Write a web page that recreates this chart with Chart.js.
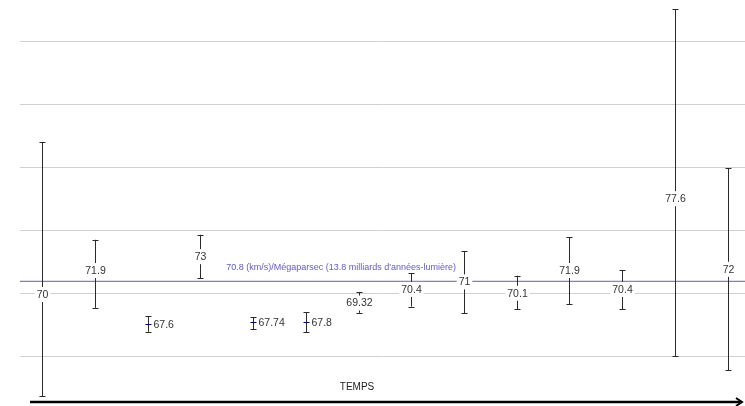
<!DOCTYPE html>
<html>
<head>
<meta charset="utf-8">
<script src="https://cdn.jsdelivr.net/npm/chart.js@4"></script>
<style>
html,body{margin:0;padding:0;background:#fff;}
#wrap{width:745px;height:406px;position:relative;}
</style>
</head>
<body>
<div id="wrap"><canvas id="c" width="745" height="406"></canvas></div>
<script>
// Data
const measures = [70, 71.9, 67.6, 73, 67.74, 67.8, 69.32, 70.4, 71, 70.1, 71.9, 70.4, 77.6, 72];
const lowValues  = [61.9, 68.9, 67.0, 71.25, 67.22, 66.98, 68.5, 69.0, 68.47, 68.8, 69.2, 68.8, 65.08, 63.94];
const highValues = [82.06, 74.3, 68.25, 74.7, 68.17, 68.57, 70.13, 71.64, 73.4, 71.45, 74.5, 71.9, 92.6, 80.0];
const labels = ["70", "71.9", "67.6", "73", "67.74", "67.8", "69.32", "70.4", "71", "70.1", "71.9", "70.4", "77.6", "72"];
const sideLabel = [false, false, true, false, true, true, false, false, false, false, false, false, false, false];
const gridValues = [65, 70, 75, 80, 85, 90];
const refValue = 71;
const refLabel = "70.8 (km/s)/Mégaparsec (13.8 milliards d'années-lumière)";
const axisTitle = "TEMPS";

const pts = measures.map((v, i) => ({x: i, y: v}));

const errPlugin = {
  id: 'errbars',
  afterDatasetsDraw(chart) {
    const ctx = chart.ctx, xs = chart.scales.x, ys = chart.scales.y;
    ctx.save();
    // reference label
    ctx.font = '9px "Liberation Sans", Arial, sans-serif';
    ctx.fillStyle = '#5c5cd6';
    ctx.textAlign = 'left';
    ctx.textBaseline = 'alphabetic';
    ctx.fillText(refLabel, xs.getPixelForValue(3.49), ys.getPixelForValue(refValue) - 11);
    // error bars
    for (let i = 0; i < measures.length; i++) {
      const x = Math.round(xs.getPixelForValue(i)) + 0.5;
      const yl = ys.getPixelForValue(lowValues[i]);
      const yh = ys.getPixelForValue(highValues[i]);
      const ym = ys.getPixelForValue(measures[i]);
      ctx.strokeStyle = '#2a2a2a';
      ctx.lineWidth = 1;
      ctx.beginPath();
      ctx.moveTo(x, yh); ctx.lineTo(x, yl);
      ctx.moveTo(x - 3, Math.round(yh) + 0.5); ctx.lineTo(x + 3, Math.round(yh) + 0.5);
      ctx.moveTo(x - 3, Math.round(yl) + 0.5); ctx.lineTo(x + 3, Math.round(yl) + 0.5);
      ctx.stroke();
      ctx.font = '10.5px "Liberation Sans", Arial, sans-serif';
      ctx.textBaseline = 'middle';
      if (sideLabel[i]) {
        ctx.strokeStyle = '#000080';
        ctx.beginPath();
        ctx.moveTo(x - 3, Math.round(ym) + 0.5); ctx.lineTo(x + 3, Math.round(ym) + 0.5);
        ctx.stroke();
        ctx.fillStyle = '#333';
        ctx.textAlign = 'left';
        ctx.fillText(labels[i], x + 5, ym + 1);
      } else {
        const w = ctx.measureText(labels[i]).width;
        ctx.fillStyle = '#fff';
        ctx.fillRect(x - w / 2 - 2, ym - 7, w + 4, 15);
        ctx.fillStyle = '#333';
        ctx.textAlign = 'center';
        ctx.fillText(labels[i], x, ym + 1);
      }
    }
    // time arrow
    const ay = 402;
    ctx.strokeStyle = '#000';
    ctx.lineWidth = 2.5;
    ctx.beginPath();
    ctx.moveTo(30, ay); ctx.lineTo(740, ay);
    ctx.stroke();
    ctx.lineWidth = 2;
    ctx.beginPath();
    ctx.moveTo(736, ay - 4); ctx.lineTo(742, ay); ctx.lineTo(736, ay + 4);
    ctx.stroke();
    ctx.font = '10px "Liberation Sans", Arial, sans-serif';
    ctx.fillStyle = '#222';
    ctx.textAlign = 'center';
    ctx.textBaseline = 'middle';
    ctx.fillText(axisTitle, 357, 387);
    ctx.restore();
  }
};

new Chart(document.getElementById('c'), {
  type: 'scatter',
  data: {
    datasets: [
      {
        type: 'line',
        data: [{x: -0.42, y: refValue}, {x: 13.33, y: refValue}],
        borderColor: '#7a7ae6',
        borderWidth: 1.2,
        pointRadius: 0,
        fill: false
      },
      {
        data: pts,
        pointRadius: 0,
        showLine: false
      }
    ]
  },
  options: {
    responsive: false,
    animation: false,
    layout: {padding: {left: 20, right: 0, top: 0, bottom: 0}},
    plugins: {legend: {display: false}, tooltip: {enabled: false}},
    scales: {
      x: {
        type: 'linear', min: -0.42, max: 13.33, display: false
      },
      y: {
        min: 61.11, max: 93.33,
        afterBuildTicks: a => { a.ticks = gridValues.map(v => ({value: v})); },
        ticks: {display: false},
        border: {display: false},
        grid: {color: '#d0d0d0', lineWidth: 1, drawTicks: false}
      }
    }
  },
  plugins: [errPlugin]
});
</script>
</body>
</html>
